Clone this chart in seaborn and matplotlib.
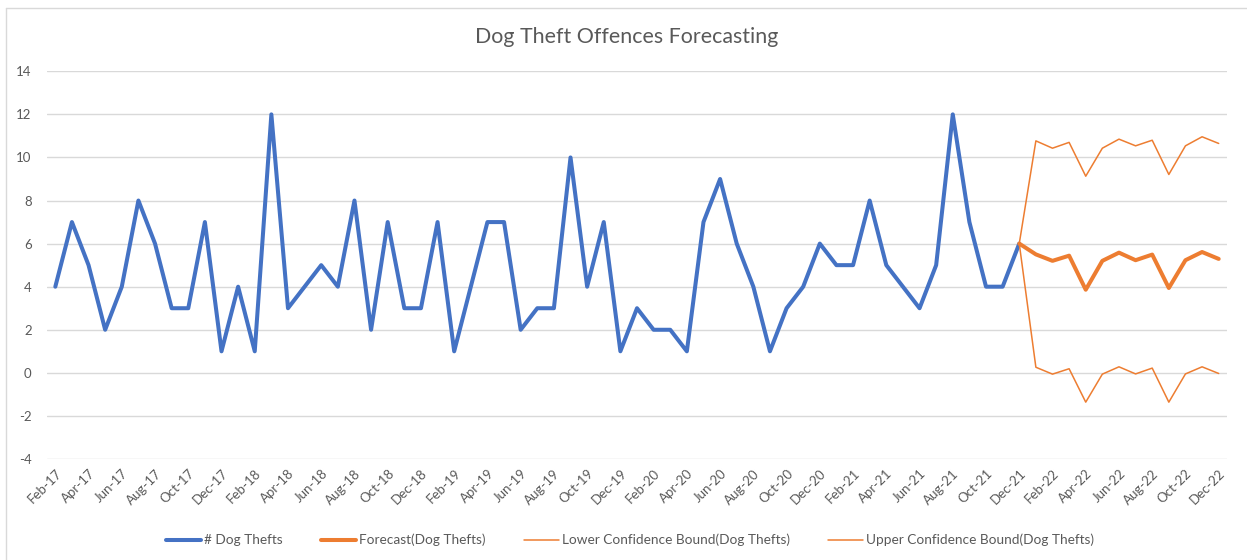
import numpy as np
import pandas as pd
import matplotlib
matplotlib.use("Agg")
import matplotlib.pyplot as plt
from matplotlib.lines import Line2D
import seaborn as sns

# Monthly categories Feb-17 .. Dec-22
months = pd.date_range("2017-02-01", "2022-12-01", freq="MS")
month_labels = [d.strftime("%b-%y") for d in months]

# Observed monthly dog theft counts, Feb-17 .. Dec-21
dog_thefts = [
    4, 7, 5, 2, 4, 8, 6, 3, 3, 7, 1,            # 2017 (Feb-Dec)
    4, 1, 12, 3, 4, 5, 4, 8, 2, 7, 3, 3,        # 2018
    7, 1, 4, 7, 7, 2, 3, 3, 10, 4, 7, 1,        # 2019
    3, 2, 2, 1, 7, 9, 6, 4, 1, 3, 4, 6,         # 2020
    5, 5, 8, 5, 4, 3, 5, 12, 7, 4, 4, 6,        # 2021
]

# Forecast and confidence bounds, Dec-21 .. Dec-22
forecast = [6, 5.50, 5.20, 5.44, 3.86, 5.20, 5.58, 5.23, 5.49, 3.94, 5.23, 5.61, 5.29]
lower_bound = [6, 0.26, -0.06, 0.19, -1.36, -0.06, 0.28, -0.05, 0.22, -1.36, -0.05, 0.28, -0.03]
upper_bound = [6, 10.77, 10.43, 10.70, 9.13, 10.43, 10.85, 10.54, 10.80, 9.21, 10.54, 10.96, 10.65]

y_ticks = [-4, -2, 0, 2, 4, 6, 8, 10, 12, 14]

BLUE = "#4472C4"
ORANGE = "#ED7D31"
TEXT = "#595959"
GRID = "#D9D9D9"

sns.set_theme(style="white")
plt.rcParams["font.family"] = ["Lato", "DejaVu Sans"]

W, H = 1247, 560
fig = plt.figure(figsize=(W / 100, H / 100), dpi=100)
ax = fig.add_axes([47 / W, 1 - 459 / H, (1227 - 47) / W, (459 - 71.3) / H])

x_obs = np.arange(len(dog_thefts))
x_fc = np.arange(len(dog_thefts) - 1, len(dog_thefts) - 1 + len(forecast))

line_kw = dict(solid_joinstyle="round", solid_capstyle="round")
sns.lineplot(x=x_obs, y=dog_thefts, ax=ax, color=BLUE, linewidth=2.9,
             label="# Dog Thefts", **line_kw)
sns.lineplot(x=x_fc, y=forecast, ax=ax, color=ORANGE, linewidth=2.9,
             label="Forecast(Dog Thefts)", **line_kw)
sns.lineplot(x=x_fc, y=lower_bound, ax=ax, color=ORANGE, linewidth=1.1,
             label="Lower Confidence Bound(Dog Thefts)", **line_kw)
sns.lineplot(x=x_fc, y=upper_bound, ax=ax, color=ORANGE, linewidth=1.1,
             label="Upper Confidence Bound(Dog Thefts)", **line_kw)

ax.set_xlim(-0.5, len(months) - 0.5)
ax.set_ylim(-4, 14)
ax.set_yticks(y_ticks)
ax.set_yticklabels([str(v) for v in y_ticks])
tick_pos = np.arange(0, len(months), 2)
ax.set_xticks(tick_pos)
ax.set_xticklabels([month_labels[i] for i in tick_pos], rotation=45,
                   ha="right", va="top", rotation_mode="anchor")
ax.tick_params(axis="both", length=0, colors=TEXT, labelsize=9.5)
ax.tick_params(axis="y", pad=11)
ax.tick_params(axis="x", pad=6)

ax.grid(axis="y", color=GRID, linewidth=1.0)
ax.grid(axis="x", visible=False)
for s in ax.spines.values():
    s.set_visible(False)
ax.set_xlabel("")
ax.set_ylabel("")

handles, labels = ax.get_legend_handles_labels()
ax.get_legend().remove()
leg = fig.legend(handles, labels, loc="center", ncol=4,
                 bbox_to_anchor=(630 / W, 1 - 540 / H), frameon=False,
                 fontsize=9.8, handlelength=2.6, handletextpad=0.2,
                 columnspacing=2.8, labelcolor=TEXT)

fig.text(627 / W, 1 - 37 / H, "Dog Theft Offences Forecasting", ha="center",
         va="center", fontsize=15.4, color=TEXT)

# Chart-area frame (top and left edges)
fx, fy = 6 / W, 1 - 7.5 / H
fig.add_artist(Line2D([fx, fx], [0, fy], transform=fig.transFigure,
                      color=GRID, linewidth=1.0))
fig.add_artist(Line2D([fx, 1], [fy, fy], transform=fig.transFigure,
                      color=GRID, linewidth=1.0))

fig.savefig("out.png", dpi=100, facecolor="white")
